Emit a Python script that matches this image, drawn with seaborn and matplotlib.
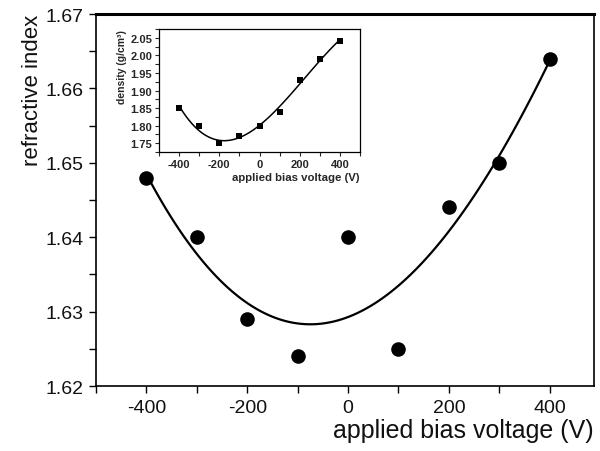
import matplotlib
matplotlib.use("Agg")
import matplotlib.pyplot as plt
import numpy as np
import pandas as pd
import seaborn as sns
from matplotlib.ticker import MultipleLocator

# main data: refractive index vs bias voltage
voltage = [-400, -300, -200, -100, 0, 100, 200, 300, 400]
refr_index = [1.648, 1.640, 1.629, 1.624, 1.640, 1.625, 1.644, 1.650, 1.664]

# inset data: density vs bias voltage
density = [1.85, 1.80, 1.75, 1.77, 1.80, 1.84, 1.93, 1.99, 2.04]

main_df = pd.DataFrame({"voltage": voltage, "n": refr_index})
inset_df = pd.DataFrame({"voltage": voltage, "density": density})

sns.set_theme(style="ticks")
plt.rcParams['font.family'] = ['Liberation Sans', 'DejaVu Sans']
plt.rcParams['axes.unicode_minus'] = False

fig = plt.figure(figsize=(6, 4.52), dpi=100)
ax = fig.add_axes([0.16, 0.1438, 0.83, 0.823])

sns.regplot(data=main_df, x="voltage", y="n", order=3, ci=None, ax=ax,
            scatter_kws=dict(s=110, color="black", alpha=1, zorder=3, linewidths=0),
            line_kws=dict(color="black", lw=1.6))
ax.set_xlim(-500, 488)
ax.set_ylim(1.62, 1.67)
ax.xaxis.set_major_locator(MultipleLocator(200))
ax.xaxis.set_minor_locator(MultipleLocator(100))
ax.yaxis.set_major_locator(MultipleLocator(0.01))
ax.yaxis.set_minor_locator(MultipleLocator(0.005))
ax.tick_params(which="both", direction="out", length=5, width=1, color="black",
               labelsize=14, labelcolor="#111111", pad=4, top=False, right=False)
ax.set_xlabel("applied bias voltage (V)", fontsize=18, loc="right", labelpad=2,
              color="#111111")
ax.set_ylabel("refractive index", fontsize=16, loc="top", labelpad=2,
              color="#111111")
for side in ["left", "bottom", "right"]:
    ax.spines[side].set_linewidth(1.2)
    ax.spines[side].set_color("black")
ax.spines["top"].set_linewidth(2.2)
ax.spines["top"].set_color("black")

# inset
ax_in = fig.add_axes([0.265, 0.6615, 0.335, 0.272])
sns.regplot(data=inset_df, x="voltage", y="density", order=3, ci=None, ax=ax_in,
            marker="s", scatter_kws=dict(s=22, color="black", alpha=1, zorder=3, linewidths=0),
            line_kws=dict(color="black", lw=1.1))
ax_in.set_xlim(-500, 500)
ax_in.set_ylim(1.725, 2.075)
ax_in.xaxis.set_major_locator(MultipleLocator(200))
ax_in.xaxis.set_minor_locator(MultipleLocator(100))
ax_in.yaxis.set_major_locator(MultipleLocator(0.05))
ax_in.yaxis.set_minor_locator(MultipleLocator(0.025))
ax_in.yaxis.set_major_formatter(matplotlib.ticker.FormatStrFormatter("%.2f"))
ax_in.tick_params(which="both", direction="out", length=3, width=0.8,
                  labelsize=8, pad=2, top=False, right=False)
for lab in ax_in.get_xticklabels() + ax_in.get_yticklabels():
    lab.set_fontweight("bold")
ax_in.set_xlabel("applied bias voltage (V)", fontsize=8.2, fontweight="bold",
                 loc="right", labelpad=2)
ax_in.set_ylabel("density (g/cm³)", fontsize=7.5, fontweight="bold",
                 loc="top", labelpad=2)
for side in ax_in.spines:
    ax_in.spines[side].set_linewidth(0.9)
    ax_in.spines[side].set_color("black")

fig.savefig("out.png", dpi=100)
